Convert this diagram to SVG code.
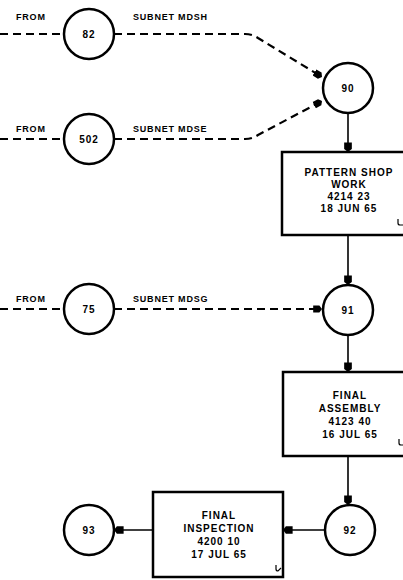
<svg xmlns="http://www.w3.org/2000/svg" width="403" height="580" viewBox="0 0 403 580">
<defs>
<marker id="ah" viewBox="0 0 10 10" refX="10" refY="5" markerWidth="4" markerHeight="4" orient="auto" markerUnits="strokeWidth">
<path d="M0,1 L7,1 L10,5 L7,9 L0,9 Z" fill="#000"/>
</marker>
<marker id="ah2" viewBox="0 0 10 10" refX="10" refY="5" markerWidth="6" markerHeight="6" orient="auto" markerUnits="strokeWidth">
<path d="M0,1 L7,1 L10,5 L7,9 L0,9 Z" fill="#000"/>
</marker>
</defs>
<style>
.c{fill:#fff;stroke:#000;stroke-width:2.5}
.b{fill:#fff;stroke:#000;stroke-width:2.5}
.t{font-family:"Liberation Sans",Arial,sans-serif;font-weight:bold;font-size:10px;letter-spacing:1px;fill:#000;text-anchor:middle}
.l{font-family:"Liberation Sans",Arial,sans-serif;font-weight:bold;font-size:9px;letter-spacing:0.8px;fill:#000}
.s{fill:none;stroke:#000;stroke-width:1.6}
.d{fill:none;stroke:#000;stroke-width:2.2;stroke-dasharray:8 5}
.tk{fill:none;stroke:#000;stroke-width:1.2}
</style>
<g id="connectors">
<path class="d" d="M0,34 H64"/>
<path class="d" d="M114,34 H245 Q252,34 258,38 L322,77" marker-end="url(#ah)"/>
<path class="d" d="M0,139 H64"/>
<path class="d" d="M114,139 H245 Q252,139 258,135 L322,101" marker-end="url(#ah)"/>
<path class="d" d="M0,309 H64"/>
<path class="d" d="M114,309 H322" marker-end="url(#ah)"/>
<path class="s" d="M348,113 V152" marker-end="url(#ah2)"/>
<path class="s" d="M348,235 V285" marker-end="url(#ah2)"/>
<path class="s" d="M348,335 V372" marker-end="url(#ah2)"/>
<path class="s" d="M348,456 V505" marker-end="url(#ah2)"/>
<path class="s" d="M325,530 H283" marker-end="url(#ah2)"/>
<path class="s" d="M153,530 H114" marker-end="url(#ah2)"/>
</g>
<g id="labels">
<text class="l" x="16" y="20">FROM</text>
<text class="l" x="133" y="20">SUBNET MDSH</text>
<text class="l" x="16" y="132">FROM</text>
<text class="l" x="133" y="132">SUBNET MDSE</text>
<text class="l" x="16" y="302">FROM</text>
<text class="l" x="133" y="302">SUBNET MDSG</text>
</g>
<g id="n82"><circle class="c" cx="89" cy="34" r="25"/><text class="t" x="89" y="38">82</text></g>
<g id="n502"><circle class="c" cx="89" cy="139" r="25"/><text class="t" x="89" y="143">502</text></g>
<g id="n75"><circle class="c" cx="89" cy="309" r="25"/><text class="t" x="89" y="313">75</text></g>
<g id="n90"><circle class="c" cx="348" cy="88" r="25"/><text class="t" x="348" y="92">90</text></g>
<g id="n91"><circle class="c" cx="348" cy="310" r="25"/><text class="t" x="348" y="314">91</text></g>
<g id="n92"><circle class="c" cx="350" cy="530" r="25"/><text class="t" x="350" y="534">92</text></g>
<g id="n93"><circle class="c" cx="89" cy="530" r="25"/><text class="t" x="89" y="534">93</text></g>
<g id="pattern">
<rect class="b" x="282" y="152" width="130" height="83"/>
<text class="t" x="349" y="176">PATTERN SHOP</text>
<text class="t" x="349" y="188">WORK</text>
<text class="t" x="349" y="200">4214 23</text>
<text class="t" x="349" y="212">18 JUN 65</text>
<path class="tk" d="M398,219 v4 q0,2 2,2 h3"/>
</g>
<g id="assembly">
<rect class="b" x="283" y="372" width="130" height="84"/>
<text class="t" x="350" y="399">FINAL</text>
<text class="t" x="350" y="412">ASSEMBLY</text>
<text class="t" x="350" y="425">4123 40</text>
<text class="t" x="350" y="438">16 JUL 65</text>
<path class="tk" d="M399,439 v4 q0,2 2,2 h3"/>
</g>
<g id="inspection">
<rect class="b" x="153" y="492" width="130" height="85"/>
<text class="t" x="219" y="519">FINAL</text>
<text class="t" x="219" y="532">INSPECTION</text>
<text class="t" x="219" y="545">4200 10</text>
<text class="t" x="219" y="558">17 JUL 65</text>
<path class="tk" d="M276,565 v4 q0,2 2,2 l3,-3"/>
</g>
</svg>
